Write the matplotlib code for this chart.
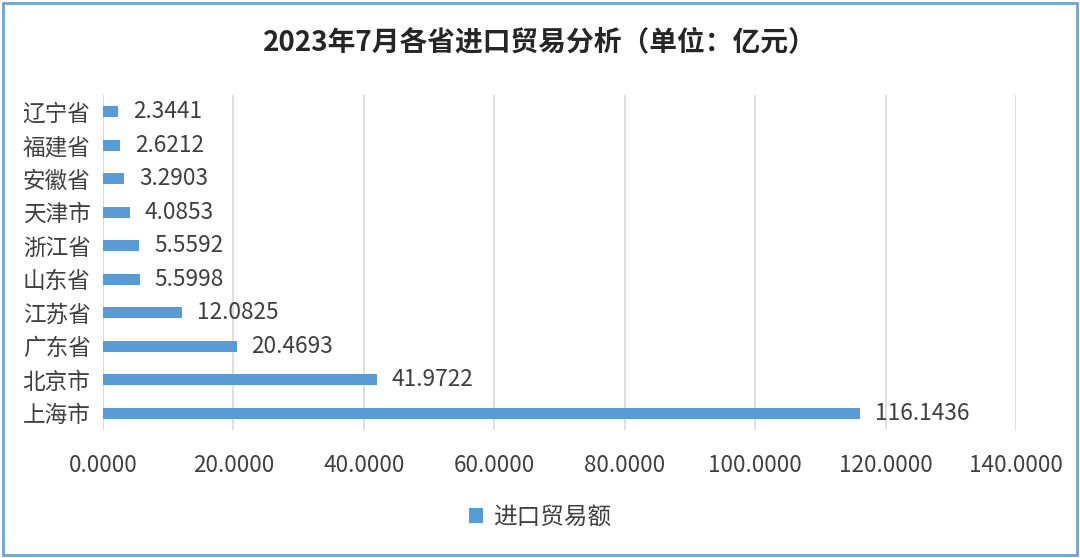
import matplotlib
matplotlib.use("Agg")
import matplotlib.pyplot as plt
from matplotlib.patches import Rectangle

plt.rcParams['font.family'] = ['Noto Sans CJK SC', 'DejaVu Sans']

provinces = ["辽宁省", "福建省", "安徽省", "天津市", "浙江省", "山东省", "江苏省", "广东省", "北京市", "上海市"]
values = [2.3441, 2.6212, 3.2903, 4.0853, 5.5592, 5.5998, 12.0825, 20.4693, 41.9722, 116.1436]
xticks = [0, 20, 40, 60, 80, 100, 120, 140]
title = "2023年7月各省进口贸易分析（单位：亿元）"
series_name = "进口贸易额"

bar_color = "#5B9BD5"
text_color = "#404040"

fig = plt.figure(figsize=(10.8, 5.58), dpi=100)
ax = fig.add_axes([0.0954, 1 - 430/558, 0.9407 - 0.0954, 335/558])

# top-to-bottom order as in reference
ypos = list(range(len(provinces)))[::-1]
bars = ax.barh(ypos, values, height=0.34, color=bar_color, label=series_name, zorder=3)

for y, v in zip(ypos, values):
    ax.text(v + 2.3, y, f"{v:.4f}", va="center", ha="left", fontsize=16.3, color=text_color)

ax.set_xlim(0, 140)
ax.set_ylim(-0.5, len(provinces) - 0.5)
ax.set_yticks(ypos)
ax.set_yticklabels(provinces, fontsize=16.3, color=text_color)
ax.set_xticks(xticks)
ax.set_xticklabels([f"{t:.4f}" for t in xticks], fontsize=16.2, color=text_color)
ax.tick_params(axis="both", length=0)
ax.tick_params(axis="x", pad=17)
ax.tick_params(axis="y", pad=9)
ax.grid(axis="x", color="#D9D9D9", linewidth=1.2, zorder=0)
for s in ax.spines.values():
    s.set_visible(False)
ax.axvline(0, color="#D9D9D9", linewidth=1.2, zorder=1)

fig.suptitle(title, x=0.5, y=1 - 42/558, va="center", fontsize=20, fontweight="bold", color="#262626")

leg = fig.legend(handles=[bars], labels=[series_name], loc="center", bbox_to_anchor=(0.5, 1 - 517/558),
                 frameon=False, fontsize=17, handlelength=0.6, handleheight=0.6, handletextpad=0.4)
for t in leg.get_texts():
    t.set_color(text_color)

fig.patches.append(Rectangle((3/1080, 3/558), 1 - 6/1080, 1 - 6/558, transform=fig.transFigure,
                             fill=False, edgecolor="#6FA3D4", linewidth=2))

fig.savefig("out.png", dpi=100, facecolor="white")
